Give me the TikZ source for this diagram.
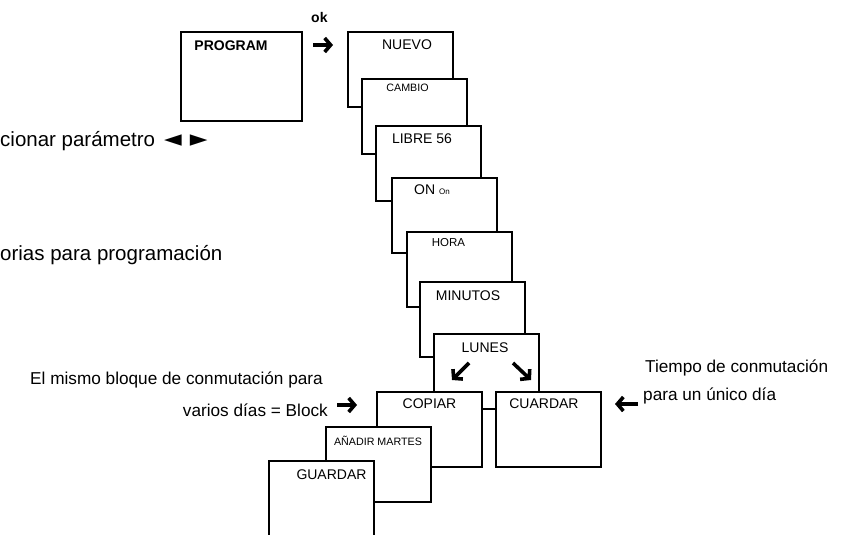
\documentclass[tikz,border=0pt]{standalone}
\usepackage{fontspec}
\setmainfont{Liberation Sans}
\newfontfamily\symfont{DejaVu Sans}
\usetikzlibrary{arrows.meta}

\begin{document}
\begin{tikzpicture}[x=1pt,y=-1pt,
	box/.style={rectangle,draw,fill=white,line width=1.8pt,inner sep=0pt,outer sep=0pt,anchor=north west,minimum width=105pt,minimum height=75pt},
	lbl/.style={inner sep=0pt,anchor=base,font=\fontsize{14}{16}\selectfont},
	smalllbl/.style={lbl,font=\fontsize{10.7}{12}\selectfont},
	note/.style={inner sep=0pt,font=\fontsize{17.2}{20}\selectfont},
	bignote/.style={inner sep=0pt,anchor=base west,font=\fontsize{20.5}{24}\selectfont},
	fatarrow/.style={line width=3.6pt,-{Straight Barb[length=6pt,width=14pt]}}]
	\useasboundingbox (0,0) rectangle (841,535);
	% program screen
	\node[box,minimum width=121pt,minimum height=89pt] at (181,32) (program) {};
	\node[lbl,font=\bfseries\fontsize{14}{16}\selectfont] at (231,51) (tprogram) {PROGRAM};
	\node[inner sep=0pt,anchor=base west,font=\bfseries\fontsize{14}{16}\selectfont] at (311,23) (ok) {ok};
	% cascade of screens
	\node[box] at (348,32) (nuevo) {};
	\node[lbl] at (407,50) (tnuevo) {NUEVO};
	\node[box] at (362,79) (cambio) {};
	\node[smalllbl] at (407.5,92) (tcambio) {CAMBIO};
	\node[box] at (376,126) (libre) {};
	\node[lbl] at (422,143) (tlibre) {LIBRE 56};
	\node[box] at (392,178) (on) {};
	\node[lbl,anchor=base west] at (414,194) (ton) {ON {\fontsize{8}{9}\selectfont On}};
	\node[box] at (407,232) (hora) {};
	\node[smalllbl,font=\fontsize{11.5}{13}\selectfont] at (448.5,246) (thora) {HORA};
	\node[box] at (420,282) (minutos) {};
	\node[lbl] at (468,300) (tminutos) {MINUTOS};
	\node[box] at (434,334) (lunes) {};
	\node[lbl] at (485,352) (tlunes) {LUNES};
	\node[box] at (377,392) (copiar) {};
	\node[lbl] at (429.5,408) (tcopiar) {COPIAR};
	\node[box] at (496,392) (cuardar) {};
	\node[lbl] at (544,408) (tcuardar) {CUARDAR};
	\node[box] at (326,427) (anadir) {};
	\node[smalllbl] at (378,445) (tanadir) {AÑADIR MARTES};
	\node[box] at (269,461) (guardar) {};
	\node[lbl] at (331.5,479) (tguardar) {GUARDAR};
	% side notes
	\node[bignote] at (0,146) (param) {cionar parámetro\hspace{9pt}{\symfont\fontsize{23}{26}\selectfont ◄\hspace{8pt}►}};
	\node[bignote] at (0,260) (memo) {orias para programación};
	\node[note,anchor=base east] at (323,384) (mismo) {El mismo bloque de conmutación para};
	\node[note,anchor=base east] at (328,416) (block) {varios días = Block};
	\node[note,anchor=base west] at (645,372) (tiempo) {Tiempo de conmutación};
	\node[note,anchor=base west] at (643,400) (unico) {para un único día};
	% arrows
	\coordinate (okA) at (313,45);
	\coordinate (okB) at (333,45);
	\coordinate (blA) at (337,405);
	\coordinate (blB) at (357,405);
	\coordinate (unA) at (638,404);
	\coordinate (unB) at (615,404);
	\coordinate (swA) at (469,363);
	\coordinate (swB) at (452,380);
	\coordinate (seA) at (513,363);
	\coordinate (seB) at (531,380);
	\draw[fatarrow] (okA)--(okB);
	\draw[fatarrow] (blA)--(blB);
	\draw[fatarrow] (unA)--(unB);
	\draw[fatarrow] (swA)--(swB);
	\draw[fatarrow] (seA)--(seB);
\end{tikzpicture}
\end{document}
